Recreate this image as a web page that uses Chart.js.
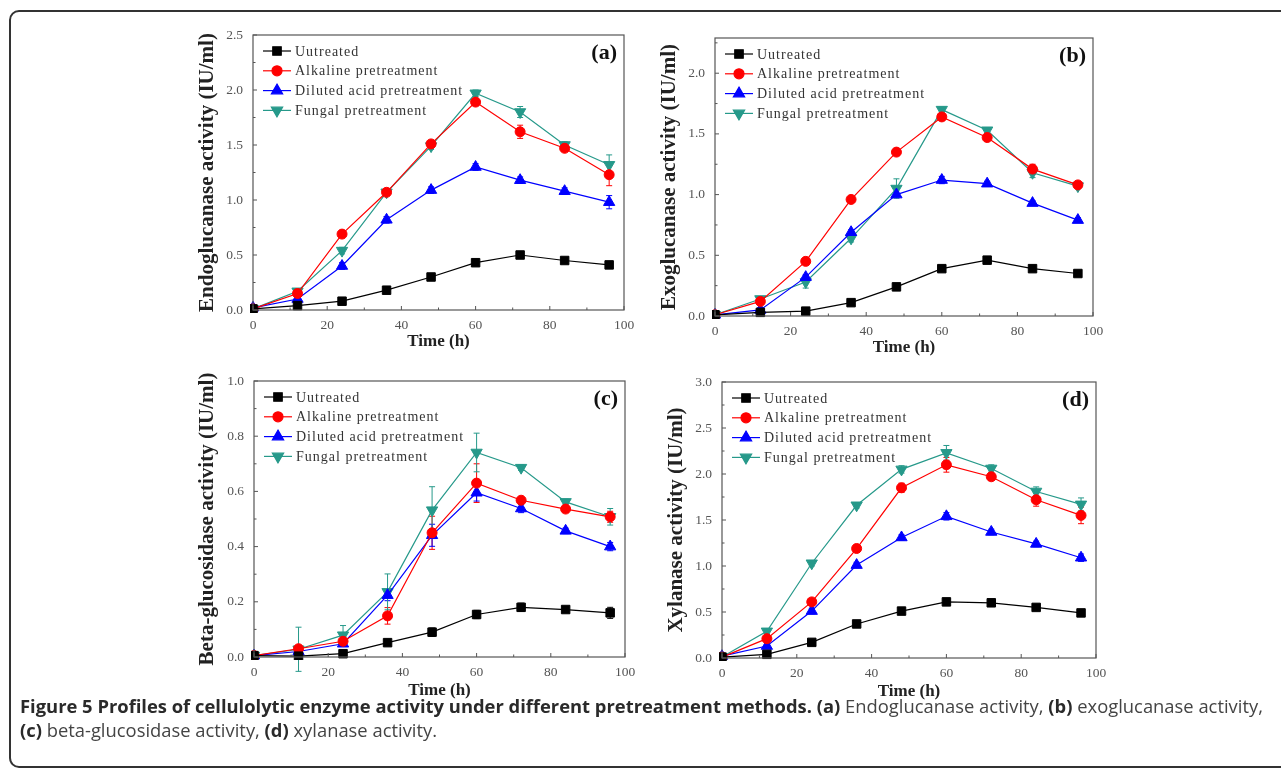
<!DOCTYPE html>
<html><head><meta charset="utf-8">
<script src="https://cdn.jsdelivr.net/npm/chart.js@4.4.0/dist/chart.umd.min.js"></script>
<style>
html,body{margin:0;padding:0;background:#fff;}
body{width:1281px;height:770px;overflow:hidden;position:relative;}
#frame{position:absolute;left:9px;top:10px;width:1320px;height:758px;border:2px solid #333;border-radius:10px;box-sizing:border-box;}
.pc{position:absolute;}
#cap{position:absolute;left:20px;top:694px;font-family:"Open Sans",sans-serif;font-size:17.5px;color:#444;}
#cap .ln{white-space:nowrap;transform-origin:0 0;line-height:24px;height:24px;}
#cap b{font-weight:700;color:#2a2a2a;}
</style></head>
<body>
<div id="frame"></div>
<canvas id="ca" class="pc"></canvas>
<canvas id="cb" class="pc"></canvas>
<canvas id="cc" class="pc"></canvas>
<canvas id="cd" class="pc"></canvas>
<div id="cap">
<div class="ln" id="l1"><b>Figure 5 Profiles of cellulolytic enzyme activity under different pretreatment methods.</b> <b>(a)</b> Endoglucanase activity, <b>(b)</b> exoglucanase activity,</div>
<div class="ln" id="l2"><b>(c)</b> beta-glucosidase activity, <b>(d)</b> xylanase activity.</div>
</div>
<script>
// ---------- data ----------
const timeH = [0, 12, 24, 36, 48, 60, 72, 84, 96];
const seriesNames = ['Uutreated', 'Alkaline pretreatment', 'Diluted acid pretreatment', 'Fungal pretreatment'];
const xTickValues = [0, 20, 40, 60, 80, 100];

// (a) Endoglucanase
const endoUntreated = [0.01, 0.04, 0.08, 0.18, 0.30, 0.43, 0.50, 0.45, 0.41];
const endoAlkaline  = [0.01, 0.15, 0.69, 1.07, 1.51, 1.89, 1.62, 1.47, 1.23];
const endoAcid      = [0.02, 0.10, 0.40, 0.82, 1.09, 1.30, 1.18, 1.08, 0.98];
const endoFungal    = [0.01, 0.17, 0.54, 1.07, 1.49, 1.97, 1.80, 1.50, 1.32];
const endoUntreatedErr = [0, 0.01, 0.01, 0.01, 0.01, 0.02, 0.02, 0.01, 0.02];
const endoAlkalineErr  = [0, 0.02, 0.03, 0.03, 0.03, 0.03, 0.06, 0.03, 0.10];
const endoAcidErr      = [0, 0.02, 0.03, 0.03, 0.03, 0.03, 0.03, 0.03, 0.06];
const endoFungalErr    = [0, 0.02, 0.03, 0.03, 0.03, 0.03, 0.05, 0.03, 0.09];
const endoYTicks = [0, 0.5, 1.0, 1.5, 2.0, 2.5];

// (b) Exoglucanase
const exoUntreated = [0.01, 0.03, 0.04, 0.11, 0.24, 0.39, 0.46, 0.39, 0.35];
const exoAlkaline  = [0.01, 0.12, 0.45, 0.96, 1.35, 1.64, 1.47, 1.21, 1.08];
const exoAcid      = [0.01, 0.05, 0.32, 0.69, 1.00, 1.12, 1.09, 0.93, 0.79];
const exoFungal    = [0.01, 0.14, 0.28, 0.64, 1.05, 1.70, 1.53, 1.18, 1.07];
const exoUntreatedErr = [0, 0.01, 0.01, 0.01, 0.02, 0.02, 0.02, 0.02, 0.02];
const exoAlkalineErr  = [0, 0.02, 0.02, 0.02, 0.02, 0.02, 0.03, 0.04, 0.02];
const exoAcidErr      = [0, 0.02, 0.02, 0.02, 0.02, 0.03, 0.02, 0.02, 0.02];
const exoFungalErr    = [0, 0.02, 0.05, 0.03, 0.08, 0.02, 0.02, 0.04, 0.02];
const exoYTicks = [0, 0.5, 1.0, 1.5, 2.0];

// (c) Beta-glucosidase
const betaUntreated = [0.005, 0.003, 0.012, 0.052, 0.09, 0.154, 0.18, 0.172, 0.16];
const betaAlkaline  = [0.005, 0.030, 0.057, 0.149, 0.45, 0.630, 0.568, 0.536, 0.508];
const betaAcid      = [0.005, 0.020, 0.048, 0.224, 0.441, 0.595, 0.538, 0.457, 0.40];
const betaFungal    = [0.005, 0.028, 0.079, 0.236, 0.532, 0.741, 0.686, 0.562, 0.508];
const betaUntreatedErr = [0, 0, 0.005, 0.005, 0.015, 0.015, 0.015, 0.01, 0.02];
const betaAlkalineErr  = [0, 0.01, 0.01, 0.03, 0.06, 0.07, 0.01, 0.01, 0.02];
const betaAcidErr      = [0, 0.01, 0.01, 0.02, 0.04, 0.03, 0.015, 0.01, 0.015];
const betaFungalErr    = [0, 0.08, 0.035, 0.065, 0.085, 0.07, 0.01, 0.01, 0.03];
const betaYTicks = [0, 0.2, 0.4, 0.6, 0.8, 1.0];

// (d) Xylanase
const xylUntreated = [0.01, 0.04, 0.17, 0.37, 0.51, 0.61, 0.60, 0.55, 0.49];
const xylAlkaline  = [0.01, 0.21, 0.61, 1.19, 1.85, 2.10, 1.97, 1.72, 1.55];
const xylAcid      = [0.02, 0.13, 0.51, 1.01, 1.31, 1.54, 1.37, 1.24, 1.09];
const xylFungal    = [0.01, 0.29, 1.03, 1.66, 2.05, 2.23, 2.06, 1.81, 1.67];
const xylUntreatedErr = [0, 0.01, 0.02, 0.02, 0.02, 0.03, 0.02, 0.02, 0.02];
const xylAlkalineErr  = [0, 0.03, 0.03, 0.04, 0.05, 0.08, 0.04, 0.07, 0.09];
const xylAcidErr      = [0, 0.02, 0.03, 0.03, 0.03, 0.04, 0.03, 0.03, 0.04];
const xylFungalErr    = [0, 0.03, 0.03, 0.03, 0.04, 0.08, 0.04, 0.05, 0.07];
const xylYTicks = [0, 0.5, 1.0, 1.5, 2.0, 2.5, 3.0];

// ---------- styles ----------
const colors = ['#000000', '#ff0000', '#0000ff', '#26998a'];
const pStyles = ['rect', 'circle', 'triangle', 'triangle'];
const pRot = [0, 0, 0, 180];
const pRad = [6, 5, 6.5, 6.5];
const SERIF = '"Liberation Serif","Times New Roman",serif';

const framePlugin = {
  id: 'frameTicks',
  beforeDatasetsDraw(chart) {
    const ctx = chart.ctx, ys = chart.scales.y;
    ctx.save();
    chart.data.datasets.forEach((ds, i) => {
      const meta = chart.getDatasetMeta(i);
      ctx.strokeStyle = ds.borderColor; ctx.lineWidth = 1;
      meta.data.forEach((pt, j) => {
        const e = ds.err[j]; if (!e) return;
        const v = ds.data[j].y;
        const yt = ys.getPixelForValue(v + e), yb = ys.getPixelForValue(v - e);
        ctx.beginPath();
        ctx.moveTo(pt.x, yt); ctx.lineTo(pt.x, yb);
        ctx.moveTo(pt.x - 3, yt); ctx.lineTo(pt.x + 3, yt);
        ctx.moveTo(pt.x - 3, yb); ctx.lineTo(pt.x + 3, yb);
        ctx.stroke();
      });
    });
    ctx.restore();
  },
  afterDatasetsDraw(chart, args, opts) {
    const ctx = chart.ctx, a = chart.chartArea, xs = chart.scales.x, ys = chart.scales.y;
    ctx.save();
    ctx.strokeStyle = '#555'; ctx.lineWidth = 1.2;
    ctx.strokeRect(a.left, a.top, a.right - a.left, a.bottom - a.top);
    ctx.lineWidth = 1;
    ctx.beginPath();
    for (let v = 0; v <= 100; v += 10) {
      const x = xs.getPixelForValue(v);
      const len = (v % 20 === 0) ? 4 : 2.5;
      ctx.moveTo(x, a.bottom); ctx.lineTo(x, a.bottom - len);
    }
    const yt = opts.yTicks, step = yt[1] - yt[0];
    for (let k = 0; k * step / 2 <= ys.max + 1e-9; k++) {
      const v = k * step / 2;
      const y = ys.getPixelForValue(v);
      const len = (k % 2 === 0) ? 4 : 2.5;
      ctx.moveTo(a.left, y); ctx.lineTo(a.left + len, y);
    }
    ctx.stroke();
    ctx.restore();
  },
  afterDraw(chart, args, opts) {
    const ctx = chart.ctx, a = chart.chartArea;
    ctx.save();
    chart.data.datasets.forEach((ds, i) => {
      const y = a.top + 16 + i * 19.8;
      ctx.strokeStyle = ds.borderColor; ctx.lineWidth = 1.2;
      ctx.beginPath(); ctx.moveTo(a.left + 10, y); ctx.lineTo(a.left + 38, y); ctx.stroke();
      ctx.fillStyle = ds.borderColor;
      Chart.helpers.drawPoint(ctx, {pointStyle: ds.pointStyle, radius: ds.pointRadius, rotation: ds.pointRotation, borderWidth: 1}, a.left + 24, y);
      ctx.fillStyle = '#333';
      ctx.font = '14px ' + SERIF;
      ctx.letterSpacing = '1px';
      ctx.textBaseline = 'middle'; ctx.textAlign = 'left';
      ctx.fillText(ds.label, a.left + 42, y + 1);
    });
    ctx.letterSpacing = '0px';
    ctx.font = 'bold 22px ' + SERIF;
    ctx.fillStyle = '#111'; ctx.textAlign = 'right'; ctx.textBaseline = 'middle';
    ctx.fillText(opts.tag, a.right - 7, a.top + 18);
    ctx.restore();
  }
};

function makePanel(id, box, yMax, yTicks, yTitle, tag, series, errs) {
  const cv = document.getElementById(id);
  const ct = box.T - 22;
  cv.style.left = box.cl + 'px'; cv.style.top = ct + 'px';
  const W = box.R + 20 - box.cl, H = box.cb - ct;
  cv.style.width = W + 'px'; cv.style.height = H + 'px';
  cv.width = W; cv.height = H;
  const yw = box.L - box.cl, xh = box.cb - box.B;
  new Chart(cv, {
    type: 'line',
    data: {
      datasets: series.map((s, i) => ({
        label: seriesNames[i],
        data: s,
        err: errs[i],
        borderColor: colors[i], backgroundColor: colors[i],
        pointBackgroundColor: colors[i], pointBorderColor: colors[i],
        borderWidth: 1.2, pointStyle: pStyles[i], pointRotation: pRot[i], pointRadius: pRad[i],
        pointBorderWidth: 1, tension: 0, clip: 3
      }))
    },
    options: {
      responsive: false, animation: false, devicePixelRatio: 1,
      layout: {padding: {top: 22, right: 20, left: 0, bottom: 0}},
      plugins: {legend: {display: false}, tooltip: {enabled: false}, frameTicks: {tag: tag, yTicks: yTicks}},
      scales: {
        x: {
          type: 'linear', min: 0, max: 100,
          afterBuildTicks(s) { s.ticks = xTickValues.map(v => ({value: v})); },
          afterFit(s) { s.height = xh; },
          grid: {display: false, drawTicks: false}, border: {display: false},
          ticks: {padding: 7, color: '#555', font: {family: SERIF, size: 13.5}, callback: v => String(v), maxRotation: 0, autoSkip: false},
          title: {display: true, text: 'Time (h)', color: '#222', font: {family: SERIF, size: 17, weight: 'bold'}, padding: {top: 0, bottom: 4}}
        },
        y: {
          type: 'linear', min: 0, max: yMax,
          afterBuildTicks(s) { s.ticks = yTicks.map(v => ({value: v})); },
          afterFit(s) { s.width = yw; },
          grid: {display: false, drawTicks: false}, border: {display: false},
          ticks: {padding: 10, color: '#555', font: {family: SERIF, size: 13.5}, callback: v => Number(v).toFixed(1), autoSkip: false},
          title: {display: true, text: yTitle, color: '#222', font: {family: SERIF, size: 21, weight: 'bold'}, padding: {top: 4, bottom: 0}}
        }
      }
    },
    plugins: [framePlugin]
  });
}

function pts(arr) { return arr.map((v, i) => ({x: timeH[i], y: v})); }
function pack(list) { return list.map(pts); }

makePanel('ca', {cl: 191, cb: 356, L: 253, R: 624, T: 35, B: 310}, 2.5, endoYTicks,
  'Endoglucanase activity (IU/ml)', '(a)',
  pack([endoUntreated, endoAlkaline, endoAcid, endoFungal]),
  [endoUntreatedErr, endoAlkalineErr, endoAcidErr, endoFungalErr]);
makePanel('cb', {cl: 653, cb: 362, L: 715, R: 1093, T: 38, B: 316}, 2.29, exoYTicks,
  'Exoglucanase activity (IU/ml)', '(b)',
  pack([exoUntreated, exoAlkaline, exoAcid, exoFungal]),
  [exoUntreatedErr, exoAlkalineErr, exoAcidErr, exoFungalErr]);
makePanel('cc', {cl: 191, cb: 705, L: 254, R: 625, T: 381, B: 657}, 1.0, betaYTicks,
  'Beta-glucosidase activity (IU/ml)', '(c)',
  pack([betaUntreated, betaAlkaline, betaAcid, betaFungal]),
  [betaUntreatedErr, betaAlkalineErr, betaAcidErr, betaFungalErr]);
makePanel('cd', {cl: 660, cb: 706, L: 722, R: 1096, T: 382, B: 658}, 3.0, xylYTicks,
  'Xylanase activity (IU/ml)', '(d)',
  pack([xylUntreated, xylAlkaline, xylAcid, xylFungal]),
  [xylUntreatedErr, xylAlkalineErr, xylAcidErr, xylFungalErr]);

// caption width fit
const l1 = document.getElementById('l1'), l2 = document.getElementById('l2');
const w1 = l1.scrollWidth;
const sc = 1243 / w1;
l1.style.transform = 'scaleX(' + sc + ')';
l2.style.transform = 'scaleX(' + sc + ')';
</script>
</body></html>
